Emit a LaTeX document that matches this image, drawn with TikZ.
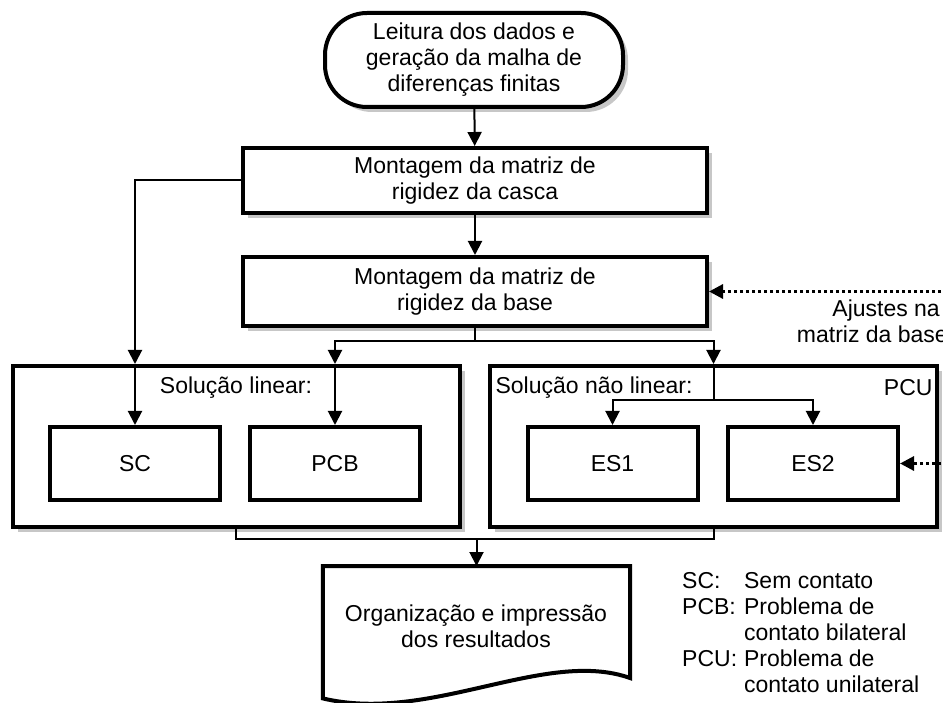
\documentclass[tikz,border=0pt]{standalone}
\usepackage{fontspec}
\setmainfont{Liberation Sans}
\usetikzlibrary{arrows.meta,shadows}
\begin{document}
\begin{tikzpicture}[x=1pt,y=-1pt,
  font=\fontsize{23}{26}\selectfont,
  shade/.style={drop shadow={shadow xshift=5pt,shadow yshift=-5pt,fill=black!22,opacity=1}},
  block/.style={draw,line width=4pt,align=center,inner sep=0pt,fill=white},
  term/.style={block,shade,rounded corners=42pt,minimum width=298pt,minimum height=94pt},
  stage/.style={block,shade,minimum width=464pt},
  group/.style={block,shade,minimum width=447pt,minimum height=161pt},
  leaf/.style={block,minimum width=170pt,minimum height=73pt},
  conn/.style={line width=2pt},
  arr/.style={line width=2pt,-{Triangle[width=14pt,length=14pt]}},
  dotarr/.style={line width=3pt,dash pattern=on 3pt off 3pt,-{Triangle[width=14pt,length=14pt]}},
]
\useasboundingbox (0,0) rectangle (943,703);

% main stages
\node[term]  (term)  at (474,60)    {Leitura dos dados e\\geração da malha de\\diferenças finitas};
\node[stage,minimum height=65pt] (casca) at (475,180.5) {Montagem da matriz de\\rigidez da casca};
\node[stage,minimum height=69pt] (base)  at (475,291.5) {Montagem da matriz de\\rigidez da base};

% solution groups
\node[group] (lin)  at (236,446.5)   {};
\node[group] (nlin) at (713.5,446.5) {};
\node (lintxt)  at (236,388)            {Solução linear:};
\node[anchor=west] (nlintxt) at (492,388) {Solução não linear:};
\node[anchor=east] (pcu)     at (936,388) {PCU};

\node[leaf] (sc)  at (135,463.5)   {SC};
\node[leaf] (pcb) at (335,463.5)   {PCB};
\node[leaf] (es1) at (612.5,463.5) {ES1};
\node[leaf] (es2) at (813,463.5)   {ES2};

% output document
\node[minimum width=307pt,minimum height=132pt,inner sep=0pt,anchor=north] (doc) at (476.5,566) {};
\draw[line width=4pt,line join=miter,fill=white]
  (doc.south west) -- (doc.north west) -- (doc.north east) -- (630,678)
  .. controls (545,648) and (430,724) .. (doc.south west) -- cycle;
\node[align=center] (doctxt) at (476,626) {Organização e impressão\\dos resultados};

% legend
\node[anchor=north west,inner sep=0pt] (legend) at (682,570) {%
  \begin{tabular}{@{}l@{\hspace{7pt}}l@{}}
  SC:  & Sem contato\\
  PCB: & Problema de\\
       & contato bilateral\\
  PCU: & Problema de\\
       & contato unilateral
  \end{tabular}};

% feedback label
\node[anchor=north east,align=right,inner sep=0pt] (adj) at (948,300) {Ajustes na\kern8pt\\matriz da base};

% connectors
\draw[arr] (term) -- (casca);
\draw[arr] (casca) -- (base);

\coordinate (scin)  at (sc.north |- lin.north);
\coordinate (pcbin) at (pcb.north |- lin.north);
\draw[arr] (casca.west) -| (scin);
\draw[arr] (scin) -- (sc.north);

\coordinate (bsplit) at ([yshift=-13pt]base.south);
\draw[conn] (base.south) -- (bsplit);
\draw[arr] (bsplit) -| (pcbin);
\draw[arr] (pcbin) -- (pcb.north);
\draw[arr] (bsplit) -| (nlin.north);

\coordinate (nsplit) at ([yshift=-36pt]nlin.north);
\draw[conn] (nlin.north) -- (nsplit);
\draw[arr] (nsplit) -| (es1.north);
\draw[arr] (nsplit) -| (es2.north);

\coordinate (merge) at (doc.north |- 0,539);
\draw[conn] (lin.south) |- (merge) -| (nlin.south);
\draw[arr] (merge) -- (doc.north);

% feedback connectors entering from the right
\coordinate (fbtop) at (965,291.5);
\coordinate (fbbot) at (965,463.5);
\draw[dotarr] (fbtop) -- (base.east);
\draw[dotarr] (fbbot) -- (es2.east);
\end{tikzpicture}
\end{document}
